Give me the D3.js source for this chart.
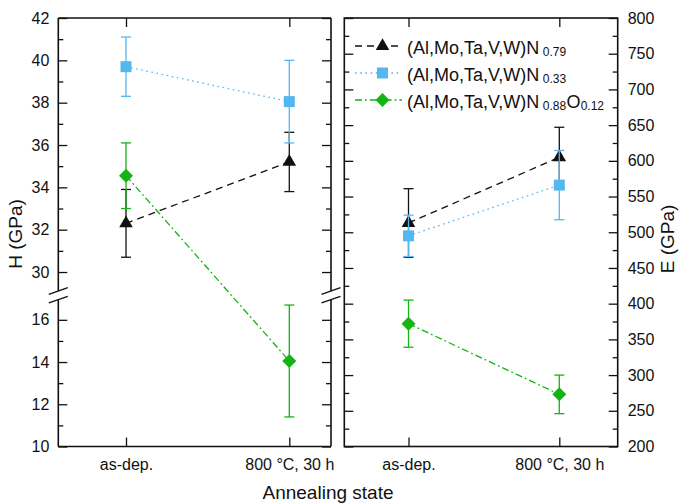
<!DOCTYPE html>
<html>
<head>
<meta charset="utf-8">
<script src="https://cdn.jsdelivr.net/npm/d3@7"></script>
<style>
  html, body { margin: 0; padding: 0; background: #fff; }
  svg { display: block; font-family: "Liberation Sans", Arial, sans-serif; }
  .tick text { font-size: 16px; fill: #111; }
</style>
</head>
<body>
<svg id="chart" width="681" height="504"></svg>
<script>
// Annealing states on the x axis
const categories = ["as-dep.", "800 °C, 30 h"];

// Hardness H (GPa), mean and error
const hN079 = [32.3, 35.2];
const hN079Err = [1.6, 1.4];
const hN033 = [39.7, 38.05];
const hN033Err = [1.4, 1.95];
const hNO = [34.55, 14.05];
const hNOErr = [1.55, 2.65];

// Young's modulus E (GPa), mean and error
const eN079 = [513, 605];
const eN079Err = [48, 42];
const eN033 = [495, 566];
const eN033Err = [29, 48.5];
const eNO = [372, 273];
const eNOErr = [33, 27];

// Tick values
const hTicksUpper = [30, 32, 34, 36, 38, 40, 42];
const hMinorUpper = [31, 33, 35, 37, 39, 41];
const hTicksLower = [10, 12, 14, 16];
const hMinorLower = [11, 13, 15];
const eTicks = [200, 250, 300, 350, 400, 450, 500, 550, 600, 650, 700, 750, 800];
const eMinor = [225, 275, 325, 375, 425, 475, 525, 575, 625, 675, 725, 775];

// Legend labels: base, subscripts and plain parts
const legendBase = ["(Al,Mo,Ta,V,W)N", "(Al,Mo,Ta,V,W)N", "(Al,Mo,Ta,V,W)N"];
const legendSub1 = ["0.79", "0.33", "0.88"];
const legendMid = ["", "", "O"];
const legendSub2 = ["", "", "0.12"];

// Styles per series
const colors = ["#111111", "#55b7f0", "#14b414"];
const dashes = ["7,5", "1.6,3.6", "7,3,1.8,3"];
const symbols = ["triangle", "square", "diamond"];

const svg = d3.select("#chart");

// Layout
const plotTop = 18, plotBottom = 446.5;
const L = { x0: 58.3, x1: 331, c0: 126, c1: 289.3 };
const R = { x0: 344.3, x1: 617.7, c0: 408.5, c1: 559.3 };
const breakUpper = 291, breakLower = 299.6;

const xL = d3.scalePoint().domain(categories).range([L.c0, L.c1]);
const xR = d3.scalePoint().domain(categories).range([R.c0, R.c1]);

const yUp = d3.scaleLinear().domain([29, 42]).range([293.2, plotTop]);
const yLow = d3.scaleLinear().domain([10, 17]).range([plotBottom, 298.7]);
const yH = v => (v >= 29 ? yUp(v) : yLow(v));
const yE = d3.scaleLinear().domain([200, 800]).range([plotBottom, plotTop]);
const intFmt = d3.format("d");

function styleAxis(g) {
  g.select(".domain").remove();
  g.selectAll(".tick line").attr("stroke", "#111").attr("stroke-width", 1.3);
}

function seg(g, x1, y1, x2, y2, w, color) {
  g.append("line").attr("x1", x1).attr("y1", y1).attr("x2", x2).attr("y2", y2)
    .attr("stroke", color || "#111").attr("stroke-width", w || 1.6);
}

function marker(g, type, x, y, color) {
  let path;
  if (type === "triangle") path = d3.symbol(d3.symbolTriangle, 80)();
  else if (type === "square") path = d3.symbol(d3.symbolSquare, 121)();
  else path = d3.symbol(d3.symbolSquare, 98)();
  g.append("path")
    .attr("d", path)
    .attr("transform", `translate(${x},${y})` + (type === "diamond" ? " rotate(45)" : ""))
    .attr("fill", color);
}

function addAxis(g, axis, tx, ty) {
  g.append("g").attr("transform", `translate(${tx},${ty})`).call(axis).call(styleAxis);
}

// ---------- Left panel: hardness with broken axis ----------
const gL = svg.append("g");
addAxis(gL, d3.axisLeft(yUp).tickValues(hTicksUpper).tickSize(-9).tickPadding(9).tickFormat(intFmt), L.x0, 0);
addAxis(gL, d3.axisLeft(yUp).tickValues(hMinorUpper).tickSize(-5).tickFormat(""), L.x0, 0);
addAxis(gL, d3.axisLeft(yLow).tickValues(hTicksLower).tickSize(-9).tickPadding(9).tickFormat(intFmt), L.x0, 0);
addAxis(gL, d3.axisLeft(yLow).tickValues(hMinorLower).tickSize(-5).tickFormat(""), L.x0, 0);
addAxis(gL, d3.axisRight(yUp).tickValues(hTicksUpper).tickSize(-9).tickFormat(""), L.x1, 0);
addAxis(gL, d3.axisRight(yUp).tickValues(hMinorUpper).tickSize(-5).tickFormat(""), L.x1, 0);
addAxis(gL, d3.axisRight(yLow).tickValues(hTicksLower).tickSize(-9).tickFormat(""), L.x1, 0);
addAxis(gL, d3.axisRight(yLow).tickValues(hMinorLower).tickSize(-5).tickFormat(""), L.x1, 0);
addAxis(gL, d3.axisBottom(xL).tickSize(-9).tickPadding(12), 0, plotBottom);
addAxis(gL, d3.axisTop(xL).tickSize(-9).tickFormat(""), 0, plotTop);

// Frame of the left panel, interrupted at the break
seg(gL, L.x0, plotTop, L.x1, plotTop);
seg(gL, L.x0, plotBottom, L.x1, plotBottom);
[L.x0, L.x1].forEach(x => {
  seg(gL, x, plotTop, x, breakUpper);
  seg(gL, x, breakLower, x, plotBottom);
  seg(gL, x - 9.5, breakUpper + 3.3, x + 9.5, breakUpper - 3.3, 1.4);
  seg(gL, x - 9.5, breakLower + 3.3, x + 9.5, breakLower - 3.3, 1.4);
});

// ---------- Right panel: modulus ----------
const gR = svg.append("g");
addAxis(gR, d3.axisLeft(yE).tickValues(eTicks).tickSize(-9).tickFormat(""), R.x0, 0);
addAxis(gR, d3.axisLeft(yE).tickValues(eMinor).tickSize(-5).tickFormat(""), R.x0, 0);
addAxis(gR, d3.axisRight(yE).tickValues(eTicks).tickSize(-9).tickPadding(10).tickFormat(intFmt), R.x1, 0);
addAxis(gR, d3.axisRight(yE).tickValues(eMinor).tickSize(-5).tickFormat(""), R.x1, 0);
addAxis(gR, d3.axisBottom(xR).tickSize(-9).tickPadding(12), 0, plotBottom);
addAxis(gR, d3.axisTop(xR).tickSize(-9).tickFormat(""), 0, plotTop);
gR.append("rect").attr("x", R.x0).attr("y", plotTop)
  .attr("width", R.x1 - R.x0).attr("height", plotBottom - plotTop)
  .attr("fill", "none").attr("stroke", "#111").attr("stroke-width", 1.6);

// ---------- Data series ----------
function drawSeries(g, x, y, vals, errs, i) {
  const pts = vals.map((v, k) => [x(categories[k]), y(v)]);
  g.append("path")
    .attr("d", d3.line()(pts))
    .attr("fill", "none")
    .attr("stroke", colors[i])
    .attr("stroke-width", 1.3)
    .attr("stroke-dasharray", dashes[i]);
  vals.forEach((v, k) => {
    const cx = x(categories[k]);
    const yt = y(v + errs[k]), yb = y(v - errs[k]);
    seg(g, cx, yt, cx, yb, 1.3, colors[i]);
    seg(g, cx - 5, yt, cx + 5, yt, 1.3, colors[i]);
    seg(g, cx - 5, yb, cx + 5, yb, 1.3, colors[i]);
  });
  vals.forEach((v, k) => marker(g, symbols[i], x(categories[k]), y(v), colors[i]));
}

const hSeries = [[hN079, hN079Err], [hN033, hN033Err], [hNO, hNOErr]];
const eSeries = [[eN079, eN079Err], [eN033, eN033Err], [eNO, eNOErr]];
hSeries.forEach(([v, e], i) => drawSeries(svg.append("g"), xL, yH, v, e, i));
eSeries.forEach(([v, e], i) => drawSeries(svg.append("g"), xR, yE, v, e, i));

// ---------- Legend ----------
const legendRows = [46, 73, 100];
legendRows.forEach((ry, i) => {
  const g = svg.append("g");
  g.append("line").attr("x1", 355).attr("x2", 402).attr("y1", ry).attr("y2", ry)
    .attr("stroke", colors[i]).attr("stroke-width", 1.3)
    .attr("stroke-dasharray", dashes[i]);
  marker(g, symbols[i], 382.5, ry, colors[i]);
  const t = g.append("text").attr("x", 407).attr("y", ry + 7.5)
    .attr("font-size", 18).attr("fill", "#111");
  t.append("tspan").text(legendBase[i]);
  t.append("tspan").attr("dx", 3.4).attr("dy", 2.5).attr("font-size", 12).text(legendSub1[i]);
  if (legendMid[i]) {
    t.append("tspan").attr("dx", 0.5).attr("dy", -2.5).attr("font-size", 18).text(legendMid[i]);
    t.append("tspan").attr("dy", 2.5).attr("font-size", 12).text(legendSub2[i]);
  }
});

// ---------- Axis titles ----------
svg.append("text").attr("transform", "translate(22,234) rotate(-90)")
  .attr("text-anchor", "middle").attr("font-size", 19).attr("fill", "#111")
  .text("H (GPa)");
svg.append("text").attr("transform", "translate(674,239) rotate(-90)")
  .attr("text-anchor", "middle").attr("font-size", 19).attr("fill", "#111")
  .text("E (GPa)");
svg.append("text").attr("x", 328).attr("y", 499)
  .attr("text-anchor", "middle").attr("font-size", 19).attr("fill", "#111")
  .text("Annealing state");
</script>
</body>
</html>
